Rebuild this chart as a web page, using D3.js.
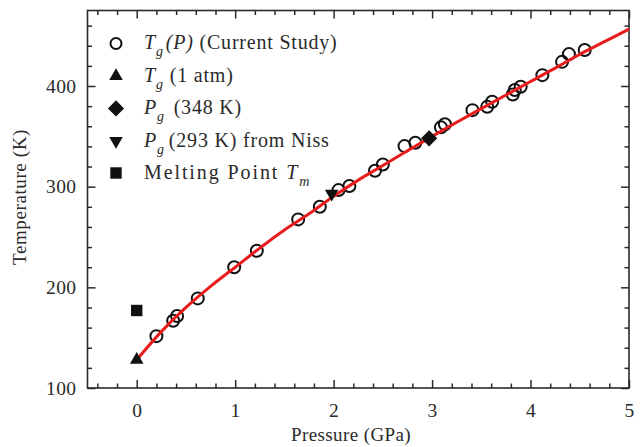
<!DOCTYPE html>
<html>
<head>
<meta charset="utf-8">
<script src="https://cdn.jsdelivr.net/npm/d3@7"></script>
<style>
  body { margin: 0; background: #fff; }
  svg text { font-family: "Liberation Serif", "Times New Roman", serif; fill: #2a2a2a; }
</style>
</head>
<body>
<div id="chart"></div>
<script>
// Tg(P) data, open circles
var tgPressure = [0.20, 0.37, 0.41, 0.62, 0.99, 1.22, 1.64, 1.86, 2.05, 2.16, 2.42, 2.50,
  2.72, 2.83, 3.09, 3.13, 3.41, 3.56, 3.61, 3.82, 3.84, 3.90, 4.12, 4.32, 4.39, 4.55];
var tgTemp = [151.5, 166.8, 171.5, 189, 219.9, 236.3, 267.5, 280, 296.6, 300.6, 315.8, 322,
  340.3, 343.6, 358.9, 362, 376, 379.3, 384.3, 391.6, 396, 399.2, 410.8, 424, 431.7, 435.7];

// fitted curve
var fitP = [0, 0.25, 0.5, 0.75, 1, 1.25, 1.5, 1.75, 2, 2.25, 2.5, 2.75, 3, 3.25, 3.5, 3.75, 4, 4.25, 4.5, 4.75, 5];
var fitT = [128, 156, 180, 201, 220, 239, 257, 273, 290.5, 306.5, 321, 335.7, 350, 364, 377.5, 391, 404.5, 417.7, 431.5, 444, 456.5];

// single markers
var tg1atm = {p: 0, t: 128};
var pg348 = {p: 2.97, t: 348};
var pg293 = {p: 1.98, t: 293};
var meltPoint = {p: 0, t: 177};

var xTicks = [0, 1, 2, 3, 4, 5];
var yTicks = [100, 200, 300, 400];

var svgWidth = 641, svgHeight = 447;
var margin = {top: 10.5, right: 12, bottom: 59, left: 87.5};
var width = svgWidth - margin.left - margin.right;
var height = svgHeight - margin.top - margin.bottom;

var svg = d3.select("#chart").append("svg")
  .attr("width", svgWidth)
  .attr("height", svgHeight);

var chartGroup = svg.append("g")
  .attr("transform", `translate(${margin.left}, ${margin.top})`);

var x = d3.scaleLinear().domain([-0.5, 5]).range([0, width]);
var y = d3.scaleLinear().domain([100, 475]).range([height, 0]);

var xMinor = d3.range(-0.4, 5, 0.2).filter(v => Math.abs(v - Math.round(v)) > 0.01);
var yMinor = d3.range(120, 475, 20).filter(v => v % 100 !== 0);

function styleAxis(g) {
  g.select(".domain").remove();
  g.selectAll("line").attr("stroke", "#2a2a2a").attr("stroke-width", 1.5);
  g.selectAll("text").attr("font-size", "19.5px").attr("fill", "#2a2a2a")
    .attr("letter-spacing", "0.4px");
}

// bottom axis
chartGroup.append("g")
  .attr("transform", `translate(0, ${height})`)
  .call(d3.axisBottom(x).tickValues(xTicks).tickSize(-8).tickPadding(15).tickFormat(d3.format("d")))
  .call(styleAxis);
chartGroup.append("g")
  .attr("transform", `translate(0, ${height})`)
  .call(d3.axisBottom(x).tickValues(xMinor).tickSize(-4.5).tickFormat(""))
  .call(styleAxis);

// top axis (ticks only)
chartGroup.append("g")
  .call(d3.axisTop(x).tickValues(xTicks).tickSize(-8).tickFormat(""))
  .call(styleAxis);
chartGroup.append("g")
  .call(d3.axisTop(x).tickValues(xMinor).tickSize(-4.5).tickFormat(""))
  .call(styleAxis);

// left axis
chartGroup.append("g")
  .call(d3.axisLeft(y).tickValues(yTicks).tickSize(-8).tickPadding(11))
  .call(styleAxis);
chartGroup.append("g")
  .call(d3.axisLeft(y).tickValues(yMinor).tickSize(-4.5).tickFormat(""))
  .call(styleAxis);

// right axis (ticks only)
chartGroup.append("g")
  .attr("transform", `translate(${width}, 0)`)
  .call(d3.axisRight(y).tickValues(yTicks).tickSize(-8).tickFormat(""))
  .call(styleAxis);
chartGroup.append("g")
  .attr("transform", `translate(${width}, 0)`)
  .call(d3.axisRight(y).tickValues(yMinor).tickSize(-4.5).tickFormat(""))
  .call(styleAxis);

// frame
chartGroup.append("rect")
  .attr("width", width)
  .attr("height", height)
  .attr("fill", "none")
  .attr("stroke", "#2a2a2a")
  .attr("stroke-width", 1.6);

// open circles
chartGroup.selectAll(".tg")
  .data(tgPressure)
  .enter()
  .append("circle")
  .attr("class", "tg")
  .attr("cx", d => x(d))
  .attr("cy", (d, i) => y(tgTemp[i]))
  .attr("r", 6)
  .attr("fill", "none")
  .attr("stroke", "#111")
  .attr("stroke-width", 2);

// fit line
var fitLine = d3.line()
  .x((d, i) => x(fitP[i]))
  .y(d => y(d))
  .curve(d3.curveCatmullRom);

chartGroup.append("path")
  .datum(fitT)
  .attr("d", fitLine)
  .attr("fill", "none")
  .attr("stroke", "#e81c1c")
  .attr("stroke-width", 3);

// filled markers
var triUp = d3.symbol().type(d3.symbolTriangle).size(80);
var square = d3.symbol().type(d3.symbolSquare).size(130);

function marker(g, pt, path, rot) {
  g.append("path")
    .attr("d", path)
    .attr("fill", "#111")
    .attr("transform", `translate(${x(pt.p)}, ${y(pt.t)}) rotate(${rot})`);
}
marker(chartGroup, tg1atm, triUp(), 0);
marker(chartGroup, pg348, square(), 45);
marker(chartGroup, pg293, triUp(), 180);
marker(chartGroup, meltPoint, square(), 0);

// legend
var legend = svg.append("g");
var legendRows = [
  {sym: "circle", y: 43.5},
  {sym: "tri", y: 76},
  {sym: "diamond", y: 108.4},
  {sym: "tridown", y: 141},
  {sym: "square", y: 173}
];
legendRows.forEach(function(r) {
  if (r.sym === "circle") {
    legend.append("circle").attr("cx", 116).attr("cy", r.y).attr("r", 5.5)
      .attr("fill", "none").attr("stroke", "#111").attr("stroke-width", 2);
  } else {
    var p = r.sym === "tri" || r.sym === "tridown" ? triUp() : square();
    var rot = r.sym === "diamond" ? 45 : (r.sym === "tridown" ? 180 : 0);
    legend.append("path").attr("d", p).attr("fill", "#111")
      .attr("transform", `translate(116, ${r.y}) rotate(${rot})`);
  }
});

function legendText(row, spacing, parts) {
  var t = legend.append("text")
    .attr("x", 144)
    .attr("y", legendRows[row].y + 5.5)
    .attr("font-size", "20px")
    .attr("letter-spacing", spacing + "px");
  parts.forEach(function(p) {
    var s = t.append("tspan").text(p.text);
    if (p.italic) s.attr("font-style", "italic");
    if (p.sub) s.attr("font-size", "14px").attr("dy", 7);
    if (p.up) s.attr("dy", -7).attr("dx", p.gap || 0);
  });
}
legendText(0, 0.8, [{text: "T", italic: true}, {text: "g", italic: true, sub: true},
  {text: "(P)", italic: true, up: true, gap: 2}, {text: " (Current Study)"}]);
legendText(1, 0.8, [{text: "T", italic: true}, {text: "g", italic: true, sub: true},
  {text: "(1 atm)", up: true, gap: 6}]);
legendText(2, 0.8, [{text: "P", italic: true}, {text: "g", italic: true, sub: true},
  {text: " (348 K)", up: true, gap: 3}]);
legendText(3, 0.8, [{text: "P", italic: true}, {text: "g", italic: true, sub: true},
  {text: "(293 K) from Niss", up: true, gap: 4}]);
legendText(4, 1.9, [{text: "Melting Point "}, {text: "T", italic: true},
  {text: "m", italic: true, sub: true}]);

// axis labels
svg.append("text")
  .attr("x", 351)
  .attr("y", 441)
  .attr("text-anchor", "middle")
  .attr("font-size", "19px")
  .attr("letter-spacing", "0.4px")
  .text("Pressure (GPa)");

svg.append("text")
  .attr("transform", "translate(26, 197) rotate(-90)")
  .attr("text-anchor", "middle")
  .attr("font-size", "19px")
  .attr("letter-spacing", "0.6px")
  .text("Temperature (K)");
</script>
</body>
</html>
